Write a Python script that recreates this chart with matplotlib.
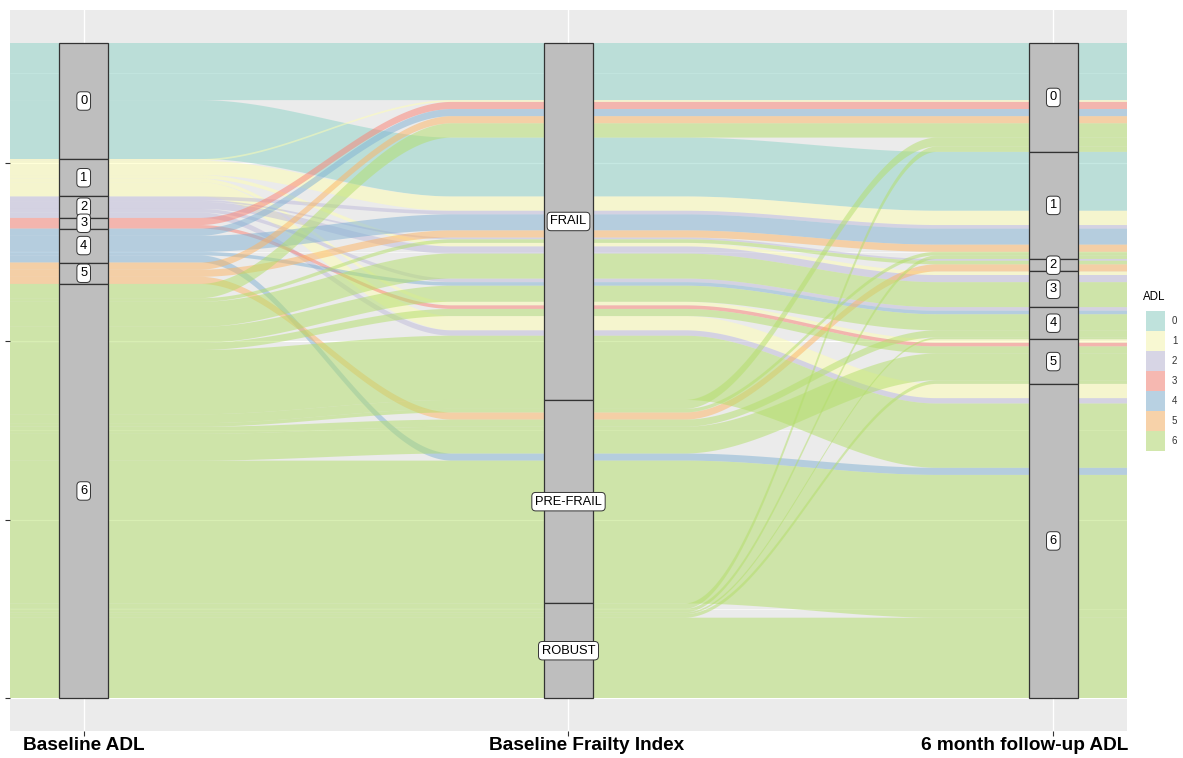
import numpy as np
import matplotlib
matplotlib.use("Agg")
import matplotlib.pyplot as plt
from matplotlib.patches import Rectangle

plt.rcParams["font.family"] = ["Liberation Sans", "DejaVu Sans"]

# ---- categories -----------------------------------------------------------
adl_levels = ["0", "1", "2", "3", "4", "5", "6"]
frailty_levels = ["FRAIL", "PRE-FRAIL", "ROBUST"]
axis_titles = ["Baseline ADL", "Baseline Frailty Index", "6 month follow-up ADL"]
adl_colors = ["#8DD3C7", "#FFFFB3", "#BEBADA", "#FB8072",
              "#80B1D3", "#FDB462", "#B3DE69"]

# ---- pathways: baseline ADL -> frailty -> 6-month ADL, with subject counts --
baseline_adl = [0, 0,
                1, 1, 1, 1, 1,
                2, 2, 2, 2, 2,
                3, 3,
                4, 4, 4, 4,
                5, 5, 5,
                6, 6, 6, 6, 6, 6,
                6, 6, 6, 6, 6,
                6, 6, 6, 6, 6]
frailty = ["FRAIL", "FRAIL",
           "FRAIL", "FRAIL", "FRAIL", "FRAIL", "FRAIL",
           "FRAIL", "FRAIL", "FRAIL", "FRAIL", "FRAIL",
           "FRAIL", "FRAIL",
           "FRAIL", "FRAIL", "FRAIL", "PRE-FRAIL",
           "FRAIL", "FRAIL", "PRE-FRAIL",
           "FRAIL", "FRAIL", "FRAIL", "FRAIL", "FRAIL", "FRAIL",
           "PRE-FRAIL", "PRE-FRAIL", "PRE-FRAIL", "PRE-FRAIL", "PRE-FRAIL",
           "ROBUST", "ROBUST", "ROBUST", "ROBUST", "ROBUST"]
followup_adl = [0, 1,
                0, 1, 3, 5, 6,
                1, 2, 3, 4, 6,
                0, 5,
                0, 1, 4, 6,
                0, 1, 2,
                0, 2, 3, 4, 5, 6,
                0, 1, 4, 5, 6,
                0, 1, 4, 5, 6]
n_subjects = [32, 33,
              1, 8, 2, 2, 8,
              2, 1, 4, 2, 3,
              4, 2,
              4, 9, 2, 4,
              4, 4, 4,
              8, 2, 14, 9, 4, 36,
              5, 2, 4, 15, 80,
              3, 2, 1, 2, 45]

# ---- stack the lodes on each axis -----------------------------------------
mid_idx = [frailty_levels.index(f) for f in frailty]
codes = np.array([baseline_adl, mid_idx, followup_adl]).T
counts = np.array(n_subjects, dtype=float)
total = counts.sum()
n_flow = len(counts)

# lode ordering inside each stratum (primary stratum, then neighbours)
order_keys = [(0, 1, 2), (1, 2, 0), (2, 1, 0)]
lo = np.zeros((n_flow, 3))
hi = np.zeros((n_flow, 3))
strata_bounds = []
for a, key in enumerate(order_keys):
    order = sorted(range(n_flow), key=lambda i: tuple(codes[i, k] for k in key))
    top = total
    for i in order:
        hi[i, a] = top
        lo[i, a] = top - counts[i]
        top -= counts[i]
    bounds = {}
    for s in np.unique(codes[:, a]):
        sel = codes[:, a] == s
        bounds[s] = (lo[sel, a].min(), hi[sel, a].max())
    strata_bounds.append(bounds)

# ---- figure ----------------------------------------------------------------
W, H = 1183, 758
fig = plt.figure(figsize=(W / 100, H / 100), dpi=100)
ax = fig.add_axes([10 / W, 1 - 730.75 / H, 1117 / W, 720.5 / H])
ax.set_facecolor("#EBEBEB")
for sp in ax.spines.values():
    sp.set_visible(False)

x_min, x_max = 0.848, 3.152
pad_y = 0.05 * total
ax.set_xlim(x_min, x_max)
ax.set_ylim(-pad_y, total + pad_y)

# grid
for gy in range(0, int(total) + 1, 100):
    ax.axhline(gy, color="white", lw=0.8, zorder=0)
for gy in range(50, int(total) + 1, 100):
    ax.axhline(gy, color="white", lw=0.4, zorder=0)
for gx in (1, 2, 3):
    ax.axvline(gx, color="white", lw=1.0, zorder=0)

ax.set_xticks([1, 2, 3])
ax.set_xticklabels(["", "", ""])
ax.set_yticks(range(0, int(total) + 1, 100))
ax.set_yticklabels([])
ax.tick_params(axis="both", length=3.5, width=0.8, color="#333333")

# ---- flows -----------------------------------------------------------------
k0, k1 = 0.24, 0.76
xs = np.linspace(x_min, x_max, 1400)


def edge(vals):
    y = np.empty_like(xs)
    for j, x in enumerate(xs):
        if x <= 1 + k0:
            y[j] = vals[0]
        elif x < 1 + k1:
            t = (x - 1 - k0) / (k1 - k0)
            s = t * t * (3 - 2 * t)
            y[j] = vals[0] + (vals[1] - vals[0]) * s
        elif x <= 2 + k0:
            y[j] = vals[1]
        elif x < 2 + k1:
            t = (x - 2 - k0) / (k1 - k0)
            s = t * t * (3 - 2 * t)
            y[j] = vals[1] + (vals[2] - vals[1]) * s
        else:
            y[j] = vals[2]
    return y


for i in range(n_flow):
    ax.fill_between(xs, edge(lo[i]), edge(hi[i]),
                    facecolor=adl_colors[codes[i, 0]], alpha=0.5,
                    lw=0, zorder=1)

# ---- strata and their labels ------------------------------------------------
stratum_w = 0.1
label_sets = [adl_levels, frailty_levels, adl_levels]
for a in range(3):
    for s, (y0, y1) in strata_bounds[a].items():
        ax.add_patch(Rectangle((a + 1 - stratum_w / 2, y0), stratum_w, y1 - y0,
                               facecolor="#BEBEBE", edgecolor="#333333",
                               lw=0.9, zorder=3))
        ax.text(a + 1, (y0 + y1) / 2, label_sets[a][s], ha="center",
                va="center", fontsize=9.3, color="black", zorder=5,
                bbox=dict(boxstyle="round,pad=0.25,rounding_size=0.3",
                          fc="white", ec="#333333", lw=0.7))

# ---- axis titles -----------------------------------------------------------
for title, cx in zip(axis_titles, (83.5, 586.5, 1025)):
    fig.text(cx / W, 1 - 745 / H, title, ha="center", va="center",
             fontsize=13.7, fontweight="bold", color="black")

# ---- legend ----------------------------------------------------------------
fig.text(1143 / W, 1 - 297 / H, "ADL", ha="left", va="center",
         fontsize=8.3, color="black")
for k, lab in enumerate(adl_levels):
    y_top = 311 + 20 * k
    fig.add_artist(Rectangle((1146 / W, 1 - (y_top + 20) / H), 19 / W, 20 / H,
                             transform=fig.transFigure, facecolor="#F2F2F2",
                             lw=0))
    fig.add_artist(Rectangle((1146 / W, 1 - (y_top + 20) / H), 19 / W, 20 / H,
                             transform=fig.transFigure,
                             facecolor=adl_colors[k], alpha=0.5, lw=0))
    fig.text(1172 / W, 1 - (y_top + 10) / H, lab, ha="left", va="center",
             fontsize=7, color="#333333")

fig.savefig("out.png", dpi=100)
